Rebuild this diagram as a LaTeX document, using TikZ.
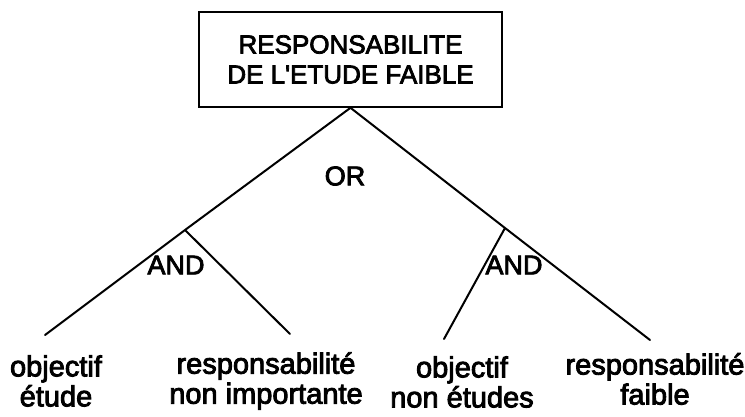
\documentclass[tikz,border=0pt]{standalone}
\usepackage{fontspec}
\setmainfont{Liberation Sans}
\newfontfamily\labfont[FakeBold=3]{Liberation Sans}
\usepackage{tikz}
\usetikzlibrary{positioning}
\tikzset{edge/.style={line width=2pt,line cap=round}}

\begin{document}
\begin{tikzpicture}[x=1pt,y=-1pt,
 top/.style={draw,line width=1.6pt,minimum width=303pt,minimum height=95pt,align=center,
   font=\labfont\fontsize{26}{30}\selectfont},
 gate/.style={inner sep=0pt,font=\labfont\fontsize{27}{30}\selectfont},
 leaf/.style={align=center,inner sep=0pt,font=\labfont\fontsize{29}{30}\selectfont}]
\useasboundingbox (0,0) rectangle (745,417);
\node[top] (t) at (350.5,59.5) {RESPONSABILITE\\DE L'ETUDE FAIBLE};
\node[gate] (or) at (345,176) {OR};
\node[gate] (a1) at (176,265) {AND};
\node[gate] (a2) at (514,265) {AND};
\coordinate (j1) at (185,230);
\coordinate (j2) at (505,228);
\coordinate (e1) at (45,335);
\coordinate (e2) at (290,334);
\coordinate (e3) at (444,339);
\coordinate (e4) at (650,340);
\node[leaf] (f1) at (56,381) {objectif\\étude};
\node[leaf] (f2) at (266,381) {responsabilité\\non importante};
\node[leaf] (f3) at (462,382) {objectif\\non études};
\node[leaf] (f4) at (655,379) {responsabilité\\faible};
\draw[edge] (t.south)--(j1)--(e1) (t.south)--(j2)--(e4) (j1)--(e2) (j2)--(e3);
\end{tikzpicture}
\end{document}
